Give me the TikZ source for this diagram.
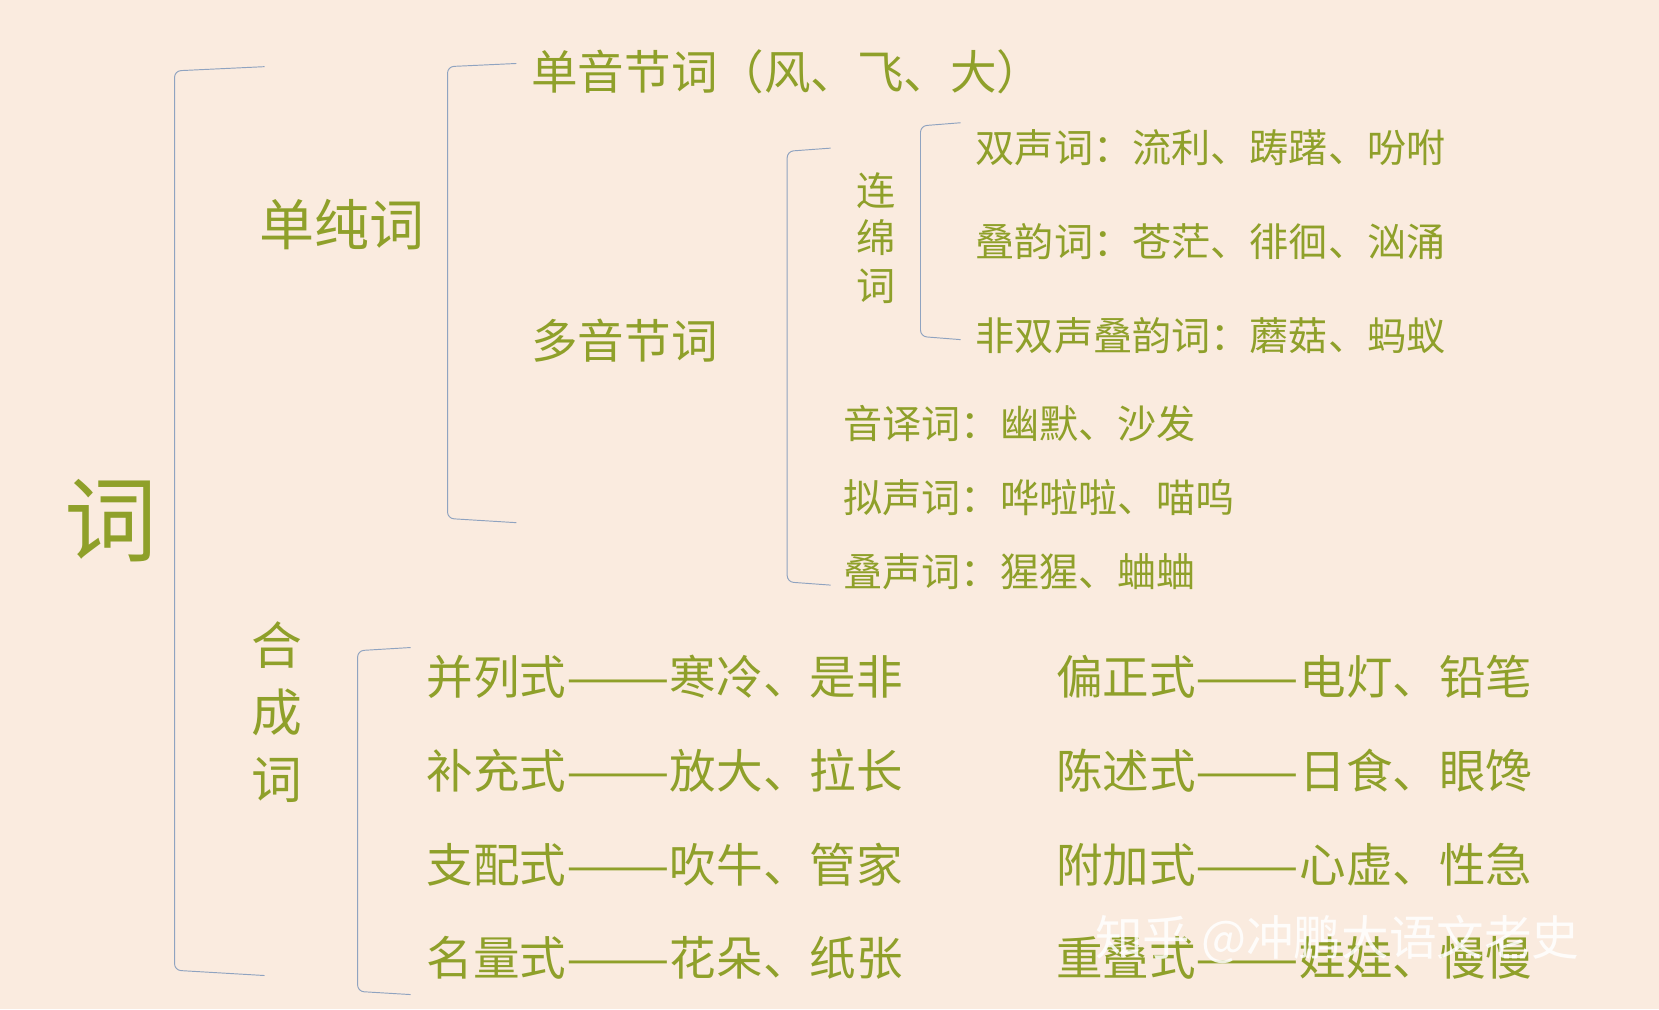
\documentclass[tikz,border=0pt]{standalone}
\usepackage{fontspec}
\setmainfont{Noto Sans CJK SC}
\definecolor{bg}{HTML}{FAEBDF}
\definecolor{tx}{HTML}{8FA02A}
\definecolor{br}{HTML}{8FA3C0}
\newcommand{\ldash}{\resizebox{98pt}{\height}{——}}
\begin{document}
\begin{tikzpicture}[x=1pt,y=-1pt,
  t/.style={anchor=west,inner sep=0pt,text=tx,font=\fontsize{#1}{#1}\selectfont},
  v/.style 2 args={anchor=center,inner sep=0pt,text=tx,align=center,font=\fontsize{#1}{#2}\selectfont},
  brk/.style={draw=br,line width=0.9pt,rounded corners=6pt}]
\fill[bg] (0,0) rectangle (1568,954);
\useasboundingbox (0,0) rectangle (1568,954);
\node[v={88}{100}] (ci) at (105,492) {词};
\node[t=52] (dcc) at (245,212) {单纯词};
\node[v={48}{63}] (hcc) at (262,673) {合\\成\\词};
\draw[brk] (250,63) -- (165,67) -- (165,917) -- (250,922);
\draw[brk] (488,60) -- (423,63) -- (423,490) -- (488,494);
\node[t=44] (dy) at (502,68) {单音节词（风、飞、大）};
\node[t=44] (duo) at (502,322) {多音节词};
\draw[brk] (785,140) -- (744,143) -- (744,550) -- (785,553);
\node[v={37}{45}] (lmc) at (828,225) {连\\绵\\词};
\draw[brk] (908,116) -- (870,119) -- (870,318) -- (908,321);
\node[t=37] (s1) at (922,140) {双声词：流利、踌躇、吩咐};
\node[t=37] (s2) at (922,228) {叠韵词：苍茫、徘徊、汹涌};
\node[t=37] (s3) at (922,317) {非双声叠韵词：蘑菇、蚂蚁};
\node[t=37] (y1) at (797,400) {音译词：幽默、沙发};
\node[t=37] (y2) at (797,470) {拟声词：哗啦啦、喵呜};
\node[t=37] (y3) at (797,540) {叠声词：猩猩、蛐蛐};
\draw[brk] (388,612) -- (338,615) -- (338,937) -- (388,940);
\node[t=44] (a1) at (403,640) {并列式\ldash 寒冷、是非};
\node[t=44] (a2) at (403,728) {补充式\ldash 放大、拉长};
\node[t=44] (a3) at (403,817) {支配式\ldash 吹牛、管家};
\node[t=44] (a4) at (403,905) {名量式\ldash 花朵、纸张};
\node[t=44] (b1) at (998,640) {偏正式\ldash 电灯、铅笔};
\node[t=44] (b2) at (998,728) {陈述式\ldash 日食、眼馋};
\node[t=44] (b3) at (998,817) {附加式\ldash 心虚、性急};
\node[t=44] (b4) at (998,905) {重叠式\ldash 娃娃、慢慢};
\node[anchor=west,inner sep=0pt,text=white,opacity=0.85,font=\fontsize{45}{45}\selectfont] (wm) at (1035,888) {知乎 @冲鹏大语文老史};
\end{tikzpicture}
\end{document}
